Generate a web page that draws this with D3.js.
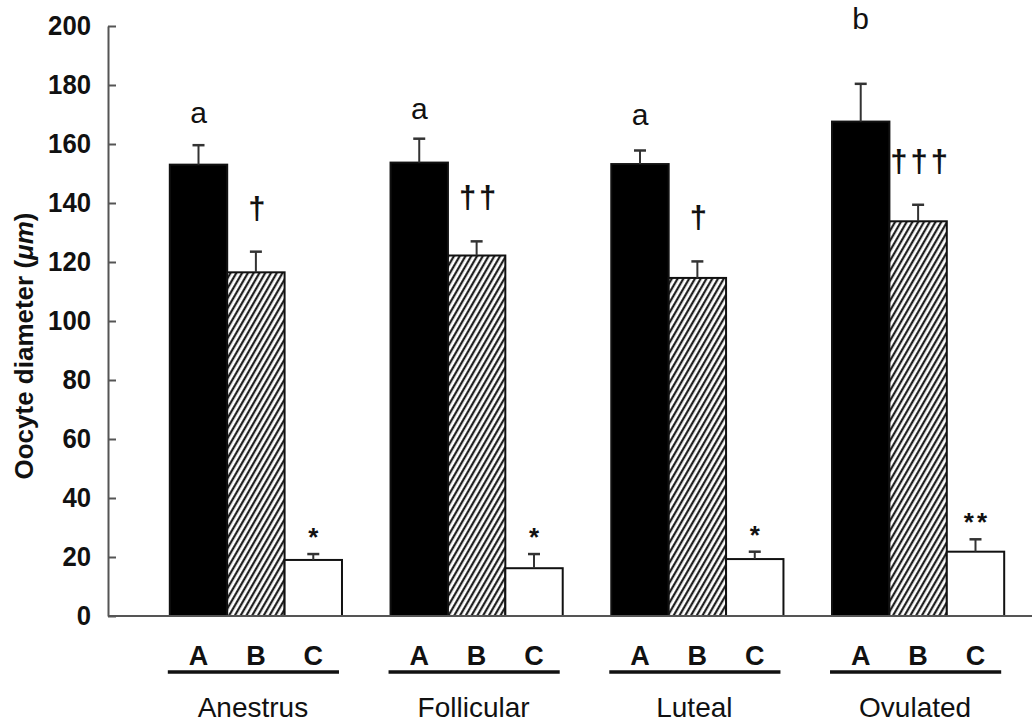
<!DOCTYPE html>
<html>
<head>
  <meta charset="utf-8">
  <script src="https://cdnjs.cloudflare.com/ajax/libs/d3/7.8.5/d3.min.js"></script>
  <title>oocyte diameter</title>
  <style>
    body { margin: 0; background: #fff; }
    text { font-family: "Liberation Sans", Arial, sans-serif; fill: #111; }
  </style>
</head>
<body>
<script>
var grupos = ["Anestrus", "Follicular", "Luteal", "Ovulated"];
var tipos = ["A", "B", "C"];
// means and SEM (um)
var mediaA = [153, 153.7, 153.2, 167.6];
var errA   = [6.6, 8.1, 4.6, 12.8];
var mediaB = [116.5, 122.2, 114.6, 133.8];
var errB   = [7, 4.8, 5.6, 5.6];
var mediaC = [19, 16.2, 19.3, 21.8];
var errC   = [2, 4.8, 2.5, 4.2];
var letras = ["a", "a", "a", "b"];
var letrasAltura = [167, 168.5, 166.5, 199];   // where the letters sit, in um
var marcasB = ["\u2020", "\u2020\u2020", "\u2020", "\u2020\u2020\u2020"];
var marcasC = ["*", "*", "*", "**"];
var yTicks = [0, 20, 40, 60, 80, 100, 120, 140, 160, 180, 200];

var w = 1032, h = 727;
var medias = [mediaA, mediaB, mediaC], errores = [errA, errB, errC];

var datos = [];
grupos.forEach(function(g, i) {
  tipos.forEach(function(t, j) {
    datos.push({grupo: g, tipo: t, valor: medias[j][i], err: errores[j][i]});
  });
});

var svg = d3.select("body").append("svg")
  .attr("width", w).attr("height", h);

var defs = svg.append("defs");
var pat = defs.append("pattern")
  .attr("id", "rayas").attr("patternUnits", "userSpaceOnUse")
  .attr("width", 5).attr("height", 10)
  .attr("patternTransform", "rotate(30)");
pat.append("rect").attr("width", 5).attr("height", 10).attr("fill", "#fff");
pat.append("line").attr("x1", 1.2).attr("x2", 1.2).attr("y1", 0).attr("y2", 10)
  .attr("stroke", "#111").attr("stroke-width", 2.1);

var y = d3.scaleLinear().domain([0, 200]).range([616, 26]);
var x = d3.scaleBand().domain(grupos).range([108, 1066])
  .paddingInner(0.22).paddingOuter(0.28);
var xs = d3.scaleBand().domain(tipos).range([0, x.bandwidth()]);

var relleno = {A: "#000", B: "url(#rayas)", C: "#fff"};

// y axis, ticks pointing into the plot
var eje = svg.append("g").attr("transform", "translate(108,0)")
  .call(d3.axisLeft(y).tickValues(yTicks).tickSizeInner(-8).tickSizeOuter(0).tickPadding(17));
eje.selectAll("path, line").attr("stroke", "#555").attr("stroke-width", 2);
eje.selectAll("text").attr("font-size", 27).attr("font-weight", "bold")
  .attr("fill", "#1a1a1a").attr("textLength", function(d) { return String(d).length * 14.3; })
  .attr("lengthAdjust", "spacingAndGlyphs")
  .style("font-family", "'Liberation Sans', Arial, sans-serif");

// bars
svg.selectAll("rect.barra").data(datos).enter().append("rect")
  .attr("class", "barra")
  .attr("x", function(d) { return x(d.grupo) + xs(d.tipo); })
  .attr("y", function(d) { return y(d.valor); })
  .attr("width", xs.bandwidth())
  .attr("height", function(d) { return y(0) - y(d.valor); })
  .attr("fill", function(d) { return relleno[d.tipo]; })
  .attr("stroke", "#111").attr("stroke-width", 2);

// error bars (upper only)
var eb = svg.selectAll("g.err").data(datos).enter().append("g").attr("class", "err")
  .attr("transform", function(d) { return "translate(" + (x(d.grupo) + xs(d.tipo) + xs.bandwidth() / 2) + ",0)"; });
eb.append("line")
  .attr("y1", function(d) { return y(d.valor); })
  .attr("y2", function(d) { return y(d.valor + d.err); })
  .attr("stroke", "#333").attr("stroke-width", 2);
eb.append("line")
  .attr("x1", -6).attr("x2", 6)
  .attr("y1", function(d) { return y(d.valor + d.err); })
  .attr("y2", function(d) { return y(d.valor + d.err); })
  .attr("stroke", "#333").attr("stroke-width", 2.5);

// baseline
svg.append("line").attr("x1", 108).attr("x2", w)
  .attr("y1", y(0)).attr("y2", y(0))
  .attr("stroke", "#555").attr("stroke-width", 2);

// significance marks
svg.selectAll("text.letra").data(grupos).enter().append("text")
  .attr("x", function(g) { return x(g) + xs("A") + xs.bandwidth() / 2; })
  .attr("y", function(g, i) { return y(letrasAltura[i]); })
  .attr("text-anchor", "middle").attr("font-size", 30)
  .text(function(g, i) { return letras[i]; });

svg.selectAll("text.daga").data(grupos).enter().append("text")
  .attr("x", function(g) { return x(g) + xs("B") + xs.bandwidth() / 2 + 2.5; })
  .attr("y", function(g, i) { return y(mediaB[i] + errB[i]) - 33; })
  .attr("text-anchor", "middle").attr("font-size", 31).attr("font-weight", "bold")
  .attr("letter-spacing", 3)
  .text(function(g, i) { return marcasB[i]; });

svg.selectAll("text.estrella").data(grupos).enter().append("text")
  .attr("x", function(g) { return x(g) + xs("C") + xs.bandwidth() / 2 + 1.5; })
  .attr("y", function(g, i) { return y(mediaC[i] + errC[i]) - 8; })
  .attr("text-anchor", "middle").attr("font-size", 26).attr("font-weight", "bold")
  .attr("letter-spacing", 3)
  .text(function(g, i) { return marcasC[i]; });

// x labels
var gx = svg.selectAll("g.gx").data(grupos).enter().append("g")
  .attr("transform", function(g) { return "translate(" + x(g) + ",0)"; });
tipos.forEach(function(t) {
  gx.append("text")
    .attr("x", xs(t) + xs.bandwidth() / 2).attr("y", 665)
    .attr("text-anchor", "middle").attr("font-size", 27).attr("font-weight", "bold")
    .text(t);
});
gx.append("line").attr("x1", -2).attr("x2", x.bandwidth() - 3)
  .attr("y1", 672).attr("y2", 672)
  .attr("stroke", "#111").attr("stroke-width", 3.5);
gx.append("text")
  .attr("x", x.bandwidth() / 2 - 3).attr("y", 717)
  .attr("text-anchor", "middle").attr("font-size", 28)
  .text(function(g) { return g; });

// y title
var yt = svg.append("text")
  .attr("transform", "translate(33,346) rotate(-90)")
  .attr("text-anchor", "middle").attr("font-size", 26).attr("font-weight", "bold");
yt.append("tspan").text("Oocyte diameter (");
yt.append("tspan").attr("font-style", "italic").text("\u03bcm");
yt.append("tspan").text(")");
</script>
</body>
</html>
